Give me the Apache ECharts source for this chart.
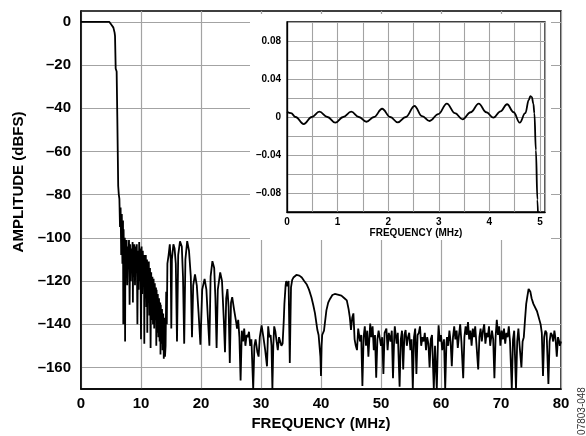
<!DOCTYPE html>
<html>
<head>
<meta charset="utf-8">
<script src="https://cdn.jsdelivr.net/npm/echarts@6/dist/echarts.min.js"></script>
<style>
  html, body { margin: 0; padding: 0; background: #fff; }
  #chart { width: 586px; height: 436px; }
</style>
</head>
<body>
<div id="chart"></div>
<script>
// main response, [MHz, dBFS]
const passband = [
  [0, 0], [1, 0], [2, 0], [3, 0], [4, 0], [4.7, 0], [4.9, -0.5], [5.1, -1.5], [5.4, -2.7],
  [5.6, -5], [5.67, -6.5], [5.78, -21.6], [5.94, -23], [6.05, -44], [6.2, -76], [6.3, -80]
];
const rolloffNoise = [
  [6.4, -82], [6.5, -95], [6.6, -86], [6.7, -108], [6.8, -89], [6.9, -112], [7.0, -92], [7.05, -140],
  [7.1, -96], [7.2, -115], [7.3, -100], [7.35, -148], [7.4, -102], [7.5, -118], [7.6, -101], [7.7, -122],
  [7.8, -104], [7.9, -112], [8.0, -101], [8.1, -131], [8.2, -103], [8.3, -120], [8.4, -105], [8.5, -114],
  [8.6, -102], [8.65, -130], [8.7, -104], [8.8, -118], [8.9, -103], [9.0, -122], [9.1, -104], [9.2, -116],
  [9.3, -103], [9.4, -140], [9.5, -106], [9.6, -124], [9.7, -102], [9.8, -120], [9.9, -105], [10.0, -147],
  [10.1, -104], [10.2, -126], [10.3, -106], [10.4, -122], [10.5, -108], [10.55, -149], [10.6, -110],
  [10.7, -128], [10.8, -108], [10.9, -132], [11.0, -110], [11.05, -144], [11.1, -112], [11.2, -130],
  [11.3, -111], [11.4, -136], [11.5, -114], [11.6, -151], [11.7, -116], [11.8, -138], [11.9, -118],
  [12.0, -140], [12.1, -119], [12.2, -142], [12.3, -121], [12.4, -138], [12.5, -123], [12.55, -150],
  [12.6, -124], [12.7, -144], [12.8, -126], [12.9, -146], [13.0, -128], [13.1, -148], [13.2, -130],
  [13.25, -154], [13.3, -131], [13.4, -149], [13.5, -133], [13.6, -152], [13.7, -135], [13.8, -156],
  [13.9, -137], [14.0, -155], [14.1, -150]
];
const sidelobes = [
  [14.2, -125], [14.3, -140], [14.4, -112], [14.6, -108], [14.8, -103], [14.95, -110], [15.05, -142],
  [15.15, -110], [15.4, -103], [15.6, -105], [15.8, -112], [16.0, -148], [16.2, -108], [16.5, -101.6],
  [16.8, -104], [17.0, -118], [17.2, -149], [17.4, -110], [17.7, -101.5], [18.0, -106], [18.3, -118],
  [18.5, -146], [18.7, -122], [19.0, -117], [19.3, -122], [19.6, -135], [19.9, -149.5], [20.2, -124],
  [20.6, -119], [20.9, -124], [21.2, -140], [21.4, -150], [21.6, -118], [21.9, -110.8], [22.2, -114],
  [22.4, -128], [22.6, -151], [22.8, -124], [23.2, -116], [23.5, -120], [23.8, -138], [24.0, -153],
  [24.2, -128], [24.4, -123.7], [24.6, -132], [24.8, -158], [25.0, -130], [25.2, -127.5], [25.5, -133],
  [25.9, -139.7], [26.0, -142], [26.2, -138], [26.4, -146], [26.6, -166], [26.8, -143], [27.0, -148],
  [27.2, -142], [27.4, -150], [27.6, -145], [27.8, -146], [28.0, -143.5], [28.2, -150], [28.4, -147],
  [28.7, -170], [28.9, -150], [29.1, -147], [29.4, -153], [29.6, -155], [29.8, -146], [30.1, -140.5],
  [30.4, -146], [30.7, -152], [31.0, -159.5], [31.2, -141], [31.4, -146], [31.6, -145], [31.75, -150],
  [31.9, -170], [32.05, -150], [32.2, -141], [32.4, -143.5], [32.6, -148], [32.8, -152], [33.0, -146],
  [33.2, -146], [33.4, -150], [33.6, -149], [33.8, -138], [33.9, -130.6], [34.1, -122], [34.2, -120],
  [34.4, -122.5], [34.6, -120], [34.7, -140], [34.8, -158], [34.9, -140], [35.0, -123], [35.2, -119.5],
  [35.4, -118.4], [35.9, -117.2], [36.4, -117.5], [36.8, -118.4], [37.2, -120], [37.6, -121.5],
  [38.0, -124], [38.4, -127.5], [38.7, -131], [39.0, -135], [39.4, -142.7], [39.6, -145], [39.8, -145],
  [39.9, -155], [40.0, -164], [40.1, -150], [40.2, -145], [40.5, -143], [40.7, -142.7], [40.9, -133.6],
  [41.2, -130], [41.5, -128.3], [41.9, -126.5], [42.3, -126], [42.8, -126.3], [43.4, -126.8],
  [43.9, -128], [44.3, -129], [44.6, -133], [44.8, -136.7], [45.0, -142.7], [45.2, -137], [45.4, -135],
  [45.6, -147]
];
const midbandNoise = [
  [45.8, -150], [46.0, -152], [46.2, -142], [46.5, -148], [46.7, -145], [46.9, -168.6], [47.1, -146],
  [47.3, -141], [47.5, -150], [47.7, -143], [47.9, -155], [48.2, -139.7], [48.4, -146], [48.6, -141],
  [48.8, -152], [49.0, -145], [49.2, -164.8], [49.4, -147], [49.6, -143], [49.8, -142.7], [50.0, -150],
  [50.2, -146], [50.4, -163], [50.6, -144], [50.9, -142], [51.1, -152], [51.3, -144], [51.6, -148],
  [51.8, -143], [52.0, -165], [52.2, -146], [52.3, -141], [52.6, -149], [52.8, -144], [53.1, -169],
  [53.3, -147], [53.5, -143], [53.7, -161], [53.9, -145], [54.1, -142.7], [54.3, -150], [54.5, -146],
  [54.7, -144], [54.9, -152], [55.1, -147], [55.3, -170], [55.5, -146], [55.7, -142], [55.9, -163],
  [56.1, -145], [56.3, -144], [56.5, -141], [56.7, -150], [56.9, -146], [57.1, -148], [57.3, -144],
  [57.5, -152], [57.7, -146], [57.9, -149], [58.1, -160], [58.3, -147], [58.5, -145], [58.8, -170],
  [59.0, -150], [59.3, -170], [59.5, -147], [59.6, -140.5], [59.8, -148], [60.0, -145], [60.2, -152],
  [60.5, -147], [60.7, -170], [60.9, -149], [61.0, -146]
];
const highband = [
  [61.2, -150], [61.4, -143], [61.6, -148], [61.8, -159.5], [62.0, -146], [62.2, -141], [62.4, -147],
  [62.6, -143], [62.8, -151], [63.0, -145], [63.2, -140], [63.4, -148], [63.7, -165], [63.9, -146],
  [64.1, -141], [64.3, -145], [64.5, -139], [64.7, -147], [64.9, -143], [65.1, -150], [65.3, -142],
  [65.5, -146], [65.7, -141], [65.9, -149], [66.2, -161], [66.4, -146], [66.6, -142], [66.8, -148],
  [67.0, -143], [67.2, -140], [67.4, -149], [67.6, -144], [67.8, -146], [68.0, -141], [68.2, -150],
  [68.5, -143], [68.7, -147], [68.9, -165], [69.1, -146], [69.3, -138], [69.5, -145], [69.7, -141],
  [69.9, -150], [70.1, -143], [70.3, -147], [70.5, -142], [70.7, -149], [70.9, -144], [71.1, -146],
  [71.3, -141], [71.5, -148], [71.8, -170], [72.0, -147], [72.2, -143], [72.5, -170], [72.7, -148],
  [72.9, -142], [73.1, -150], [73.4, -160], [73.6, -148], [73.8, -146], [74.0, -138], [74.2, -130.6],
  [74.4, -127], [74.6, -123.7], [74.9, -125], [75.1, -128], [75.4, -130.6], [75.7, -131], [76.0, -134],
  [76.2, -136], [76.4, -138], [76.6, -140], [76.8, -144], [77.0, -164], [77.2, -146], [77.4, -143],
  [77.6, -144], [77.9, -167.7], [78.1, -148], [78.3, -144], [78.5, -145], [78.7, -148], [78.9, -143],
  [79.1, -147], [79.3, -155], [79.5, -146], [79.7, -148], [79.8, -150], [80.0, -148]
];

// passband ripple (inset), [MHz, dB]
const ripple = [
  [0, 0.0056], [0.08, 0.004], [0.17, 0], [0.33, -0.0074], [0.49, 0], [0.64, 0.0056], [0.8, 0],
  [0.955, -0.006], [1.11, 0], [1.27, 0.0056], [1.42, 0], [1.57, -0.005], [1.72, 0], [1.88, 0.0087],
  [2.04, 0], [2.19, -0.0057], [2.35, 0], [2.52, 0.0116], [2.67, 0.001], [2.82, -0.0042], [2.99, 0.003],
  [3.16, 0.014], [3.32, 0.004], [3.47, -0.0025], [3.63, 0.005], [3.79, 0.014], [3.94, 0.005],
  [4.08, -0.0007], [4.22, 0.006], [4.35, 0.0134], [4.48, 0.005], [4.6, -0.006], [4.71, 0.004],
  [4.78, 0.018], [4.81, 0.022], [4.84, 0.021], [4.87, 0.014], [4.89, 0.004], [4.92, -0.035],
  [4.95, -0.087], [4.97, -0.12]
];

const mainYTicks = [0, -20, -40, -60, -80, -100, -120, -140, -160];

const font = 'Liberation Sans, Arial, sans-serif';
const gridGray = '#a3a3a3';

function dash(v) {
  return String(v).replace('-', '\u2013');
}

const chart = echarts.init(document.getElementById('chart'));

const option = {
  animation: false,
  backgroundColor: '#fff',
  grid: [
    {
      left: 81, top: 11, width: 480, height: 382,
      show: true, borderColor: '#000', borderWidth: 1.5
    },
    {
      left: 287, top: 22, width: 258, height: 190,
      show: true, borderColor: '#000', borderWidth: 1.3, z: 2
    }
  ],
  graphic: [
    {
      // white panel behind the inset, hides the main grid lines
      type: 'rect', z: 1, silent: true,
      shape: { x: 250, y: 14, width: 301, height: 226 },
      style: { fill: '#fff', stroke: null, lineWidth: 0 }
    },
    {
      type: 'text', z: 5, x: 582, y: 411, rotation: Math.PI / 2,
      style: {
        text: '07803-048', font: '10px ' + font, fill: '#333',
        align: 'center', verticalAlign: 'middle'
      }
    }
  ],
  xAxis: [
    {
      type: 'value', gridIndex: 0, min: 0, max: 80, interval: 10,
      name: 'FREQUENCY (MHz)', nameLocation: 'middle', nameGap: 27,
      nameTextStyle: { fontFamily: font, fontWeight: 'bold', fontSize: 15, color: '#000' },
      axisLine: { show: true, onZero: false, lineStyle: { color: '#000', width: 1.5 } },
      axisTick: { show: false },
      axisLabel: { margin: 7, fontFamily: font, fontWeight: 'bold', fontSize: 15, color: '#000' },
      splitLine: { show: true, lineStyle: { color: gridGray, width: 1.2 } }
    },
    {
      type: 'value', gridIndex: 1, min: 0, max: 5.1, interval: 0.5, z: 2,
      name: 'FREQUENCY (MHz)', nameLocation: 'middle', nameGap: 16,
      nameTextStyle: { fontFamily: font, fontWeight: 'bold', fontSize: 10, color: '#000' },
      axisLine: { show: true, onZero: false, lineStyle: { color: '#000', width: 1.3 } },
      axisTick: { show: false },
      axisLabel: {
        margin: 5, fontFamily: font, fontWeight: 'bold', fontSize: 10, color: '#000',
        formatter: v => (Math.abs(v - Math.round(v)) < 1e-6 ? String(Math.round(v)) : '')
      },
      splitLine: { show: true, lineStyle: { color: gridGray, width: 1.1 } }
    }
  ],
  yAxis: [
    {
      type: 'value', gridIndex: 0, min: -170, max: 5,
      name: 'AMPLITUDE (dBFS)', nameLocation: 'middle', nameGap: 53,
      nameTextStyle: {
        fontFamily: font, fontWeight: 'bold', fontSize: 15, color: '#000',
        padding: [0, 0, 0, 36]
      },
      axisLine: { show: true, onZero: false, lineStyle: { color: '#000', width: 1.5 } },
      axisTick: { show: false, customValues: mainYTicks },
      axisLabel: {
        margin: 10, fontFamily: font, fontWeight: 'bold', fontSize: 15, color: '#000',
        customValues: mainYTicks, formatter: v => dash(v)
      },
      splitLine: { show: true, lineStyle: { color: gridGray, width: 1.2 } }
    },
    {
      type: 'value', gridIndex: 1, min: -0.1, max: 0.1, interval: 0.02, z: 2,
      axisLine: { show: true, onZero: false, lineStyle: { color: '#000', width: 1.3 } },
      axisTick: { show: false },
      axisLabel: {
        margin: 6, fontFamily: font, fontWeight: 'bold', fontSize: 10, color: '#000',
        formatter: v => {
          const k = Math.round(v * 100);
          if (k % 4 !== 0 || Math.abs(k) >= 10) return '';
          return k === 0 ? '0' : dash((k / 100).toFixed(2));
        }
      },
      splitLine: { show: true, lineStyle: { color: gridGray, width: 1.1 } }
    }
  ],
  series: [
    {
      type: 'line', xAxisIndex: 0, yAxisIndex: 0,
      data: [].concat(passband, rolloffNoise, sidelobes, midbandNoise, highband),
      showSymbol: false, clip: true,
      lineStyle: { color: '#000', width: 1.8 }
    },
    {
      type: 'line', xAxisIndex: 1, yAxisIndex: 1, z: 3,
      data: ripple, smooth: 0.4, smoothMonotone: 'x',
      showSymbol: false, clip: true,
      lineStyle: { color: '#000', width: 1.8 }
    }
  ]
};

chart.setOption(option);
</script>
</body>
</html>
